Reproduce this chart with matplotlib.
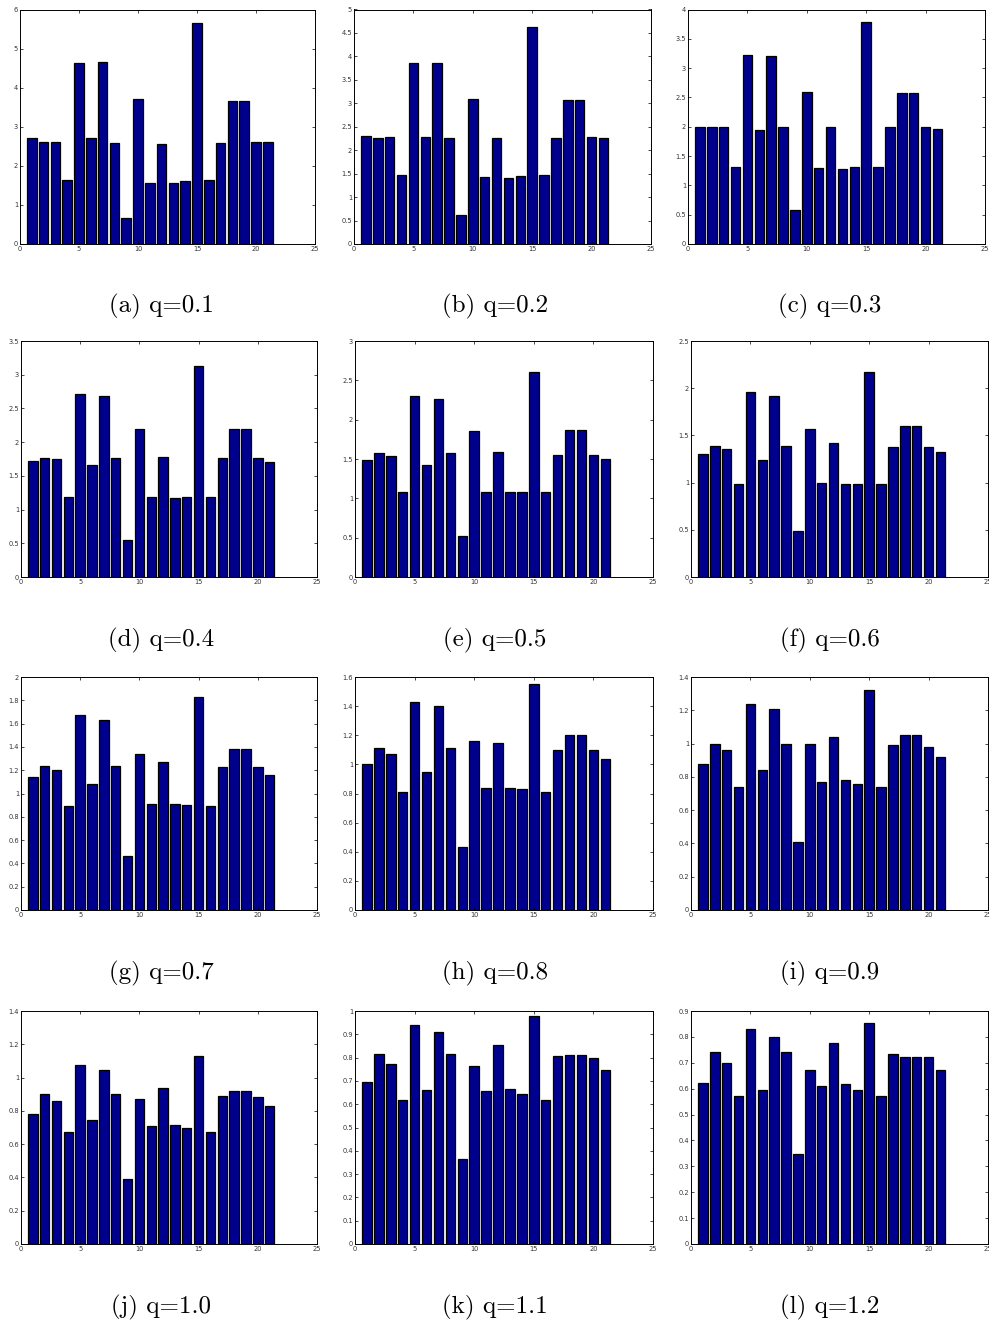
import numpy as np
import matplotlib
matplotlib.use('Agg')
from matplotlib import pyplot as plt
from matplotlib.ticker import FormatStrFormatter

# bar heights, 21 bars per panel
q01 = [2.70, 2.60, 2.62, 1.63, 4.63, 2.70, 4.65, 2.58, 0.67, 3.70, 1.57,
       2.55, 1.55, 1.60, 5.65, 1.63, 2.58, 3.65, 3.65, 2.60, 2.62]
q02 = [2.31, 2.27, 2.28, 1.47, 3.86, 2.28, 3.85, 2.27, 0.62, 3.09, 1.43,
       2.25, 1.41, 1.45, 4.62, 1.47, 2.27, 3.06, 3.06, 2.28, 2.27]
q03 = [1.99, 2.00, 1.99, 1.32, 3.23, 1.94, 3.21, 1.99, 0.58, 2.59, 1.30,
       2.00, 1.28, 1.31, 3.79, 1.32, 1.99, 2.58, 2.58, 2.00, 1.96]
q04 = [1.72, 1.77, 1.75, 1.19, 2.72, 1.66, 2.68, 1.77, 0.55, 2.19, 1.19,
       1.78, 1.17, 1.19, 3.13, 1.19, 1.76, 2.19, 2.19, 1.76, 1.71]
q05 = [1.49, 1.57, 1.54, 1.08, 2.30, 1.43, 2.26, 1.57, 0.52, 1.85, 1.08,
       1.59, 1.08, 1.08, 2.60, 1.08, 1.55, 1.87, 1.87, 1.55, 1.50]
q06 = [1.30, 1.39, 1.36, 0.98, 1.96, 1.24, 1.92, 1.39, 0.49, 1.57, 1.00,
       1.42, 0.99, 0.99, 2.17, 0.98, 1.38, 1.60, 1.60, 1.38, 1.32]
q07 = [1.14, 1.24, 1.20, 0.89, 1.67, 1.08, 1.63, 1.24, 0.46, 1.34, 0.91,
       1.27, 0.91, 0.90, 1.83, 0.89, 1.23, 1.38, 1.38, 1.23, 1.16]
q08 = [1.00, 1.11, 1.07, 0.81, 1.43, 0.95, 1.40, 1.11, 0.43, 1.16, 0.84,
       1.15, 0.84, 0.83, 1.55, 0.81, 1.10, 1.20, 1.20, 1.10, 1.04]
q09 = [0.88, 1.00, 0.96, 0.74, 1.24, 0.84, 1.21, 1.00, 0.41, 1.00, 0.77,
       1.04, 0.78, 0.76, 1.32, 0.74, 0.99, 1.05, 1.05, 0.98, 0.92]
q10 = [0.78, 0.90, 0.86, 0.675, 1.075, 0.745, 1.045, 0.90, 0.39, 0.87, 0.71,
       0.94, 0.715, 0.70, 1.13, 0.675, 0.89, 0.92, 0.92, 0.885, 0.83]
q11 = [0.695, 0.815, 0.772, 0.62, 0.94, 0.662, 0.912, 0.815, 0.366, 0.762, 0.658,
       0.852, 0.665, 0.645, 0.98, 0.62, 0.808, 0.813, 0.813, 0.798, 0.745]
q12 = [0.622, 0.74, 0.698, 0.57, 0.83, 0.594, 0.80, 0.74, 0.348, 0.672, 0.609,
       0.777, 0.617, 0.595, 0.852, 0.57, 0.734, 0.723, 0.723, 0.722, 0.674]

series = [q01, q02, q03, q04, q05, q06, q07, q08, q09, q10, q11, q12]
captions = ['(a) q=0.1', '(b) q=0.2', '(c) q=0.3', '(d) q=0.4',
            '(e) q=0.5', '(f) q=0.6', '(g) q=0.7', '(h) q=0.8',
            '(i) q=0.9', '(j) q=1.0', '(k) q=1.1', '(l) q=1.2']
ymax = [6, 5, 4, 3.5, 3, 2.5, 2, 1.6, 1.4, 1.4, 1.0, 0.9]
ystep = [1, 0.5, 0.5, 0.5, 0.5, 0.5, 0.2, 0.2, 0.2, 0.2, 0.1, 0.1]

W, H = 989, 1326
fig = plt.figure(figsize=(W / 100, H / 100), dpi=100)

# pixel boxes (left, right) per row / (top, bottom) per row
col_x = [[(20, 315), (354, 651), (688, 985)]] + \
        [[(21, 317), (355, 653), (691, 988)]] * 3
row_y = [(9.5, 244), (341, 577), (677, 910), (1011, 1244)]
cap_x = [161, 495, 830]
cap_y = [306, 640, 973, 1307]

x = np.arange(1, 22)
for i in range(12):
    r, c = divmod(i, 3)
    x0, x1 = col_x[r][c]
    y0, y1 = row_y[r]
    ax = fig.add_axes([x0 / W, 1 - y1 / H, (x1 - x0) / W, (y1 - y0) / H])
    ax.bar(x, series[i], width=0.8, color='#00008F',
           edgecolor='black', linewidth=0.9)
    ax.set_xlim(0, 25)
    ax.set_ylim(0, ymax[i])
    ax.set_xticks(np.arange(0, 26, 5))
    ax.set_yticks(np.arange(0, ymax[i] + 1e-9, ystep[i]))
    ax.yaxis.set_major_formatter(FormatStrFormatter('%g'))
    ax.tick_params(direction='in', length=2.5, width=0.5, labelsize=4.8,
                   top=True, right=True, pad=1.5, labelcolor='#333333')
    for sp in ax.spines.values():
        sp.set_linewidth(0.7)
    fig.text(cap_x[c] / W, 1 - cap_y[r] / H, captions[i],
             family='cmr10', fontsize=18, ha='center', va='center')

fig.savefig('out.png', dpi=100)
